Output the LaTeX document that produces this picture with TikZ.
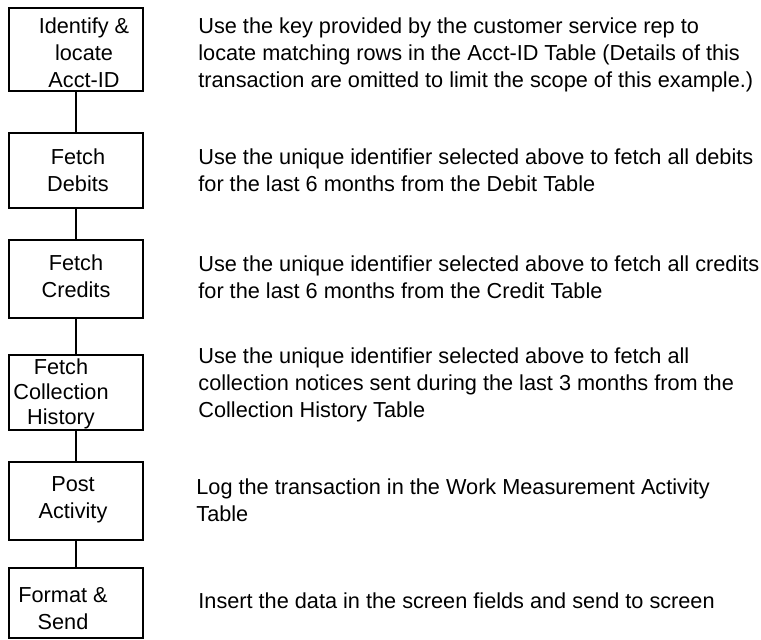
\documentclass[tikz,border=0pt]{standalone}
\usepackage{fontspec}
\setmainfont{Liberation Sans}
\usetikzlibrary{positioning}

\tikzset{
  stepbox/.style={draw=black, line width=1.4pt, minimum width=67pt, inner sep=0pt},
  steptext/.style={align=center, inner sep=0pt, font=\fontsize{10.85}{13.5}\selectfont},
  note/.style={align=left, anchor=west, inner sep=0pt, font=\fontsize{10.85}{13.5}\selectfont},
  link/.style={line width=1.4pt}
}

\begin{document}
\begin{tikzpicture}[x=0.5pt, y=-0.5pt]
        % Page frame
        \useasboundingbox (0,0) rectangle (761,640);

        % Step boxes
        \node[stepbox, minimum height=41.5pt] (b1) at (76,49.5) {};
        \node[stepbox, minimum height=37.5pt] (b2) at (76,170.5) {};
        \node[stepbox, minimum height=39pt]   (b3) at (76,279) {};
        \node[stepbox, minimum height=37.5pt] (b4) at (76,392.5) {};
        \node[stepbox, minimum height=39pt]   (b5) at (76,501) {};
        \node[stepbox, minimum height=35pt]   (b6) at (76,603) {};

        % Box labels
        \node[steptext] (t1) at (84,52.5) {Identify \&\\locate\\Acct-ID};
        \node[steptext] (t2) at (78,170) {Fetch\\Debits};
        \node[steptext] (t3) at (76,276.5) {Fetch\\Credits};
        \node[steptext, font=\fontsize{10.85}{12.5}\selectfont] (t4) at (61,394) {Fetch\\Collection\\History};
        \node[steptext] (t5) at (73,500) {Post\\Activity};
        \node[steptext] (t6) at (63,608.5) {Format \&\\Send};

        % Connectors
        \draw[link] (b1) -- (b2);
        \draw[link] (b2) -- (b3);
        \draw[link] (b3) -- (b4);
        \draw[link] (b4) -- (b5);
        \draw[link] (b5) -- (b6);

        % Descriptions
        \node[note] (d1) at (198,55) {Use the key provided by the customer service rep to\\locate matching rows in the Acct-ID Table (Details of this\\transaction are omitted to limit the scope of this example.)};
        \node[note] (d2) at (198,170) {Use the unique identifier selected above to fetch all debits\\for the last 6 months from the Debit Table};
        \node[note] (d3) at (198,277) {Use the unique identifier selected above to fetch all credits\\for the last 6 months from the Credit Table};
        \node[note] (d4) at (198,385) {Use the unique identifier selected above to fetch all\\collection notices sent during the last 3 months from the\\Collection History Table};
        \node[note] (d5) at (196,500) {Log the transaction in the Work Measurement Activity\\Table};
        \node[note] (d6) at (198,601) {Insert the data in the screen fields and send to screen};
    \end{tikzpicture}
\end{document}
